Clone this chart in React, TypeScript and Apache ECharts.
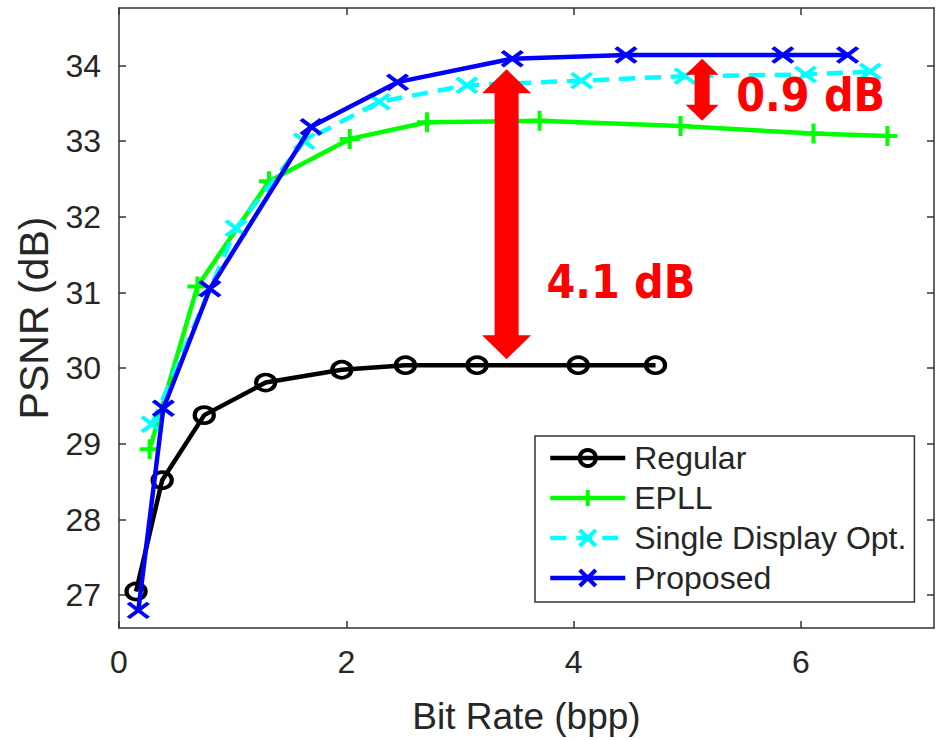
import React, { useEffect, useRef } from "react";
import * as echarts from "echarts";

// ---- data ----
const seriesNames = ["Regular", "EPLL", "Single Display Opt.", "Proposed"];

const regularX = [0.15, 0.38, 0.75, 1.29, 1.96, 2.52, 3.15, 4.04, 4.72];
const regularY = [27.05, 28.52, 29.38, 29.81, 29.98, 30.04, 30.04, 30.04, 30.04];

const epllX = [0.27, 0.69, 1.32, 2.03, 2.71, 3.7, 4.94, 6.11, 6.76];
const epllY = [28.93, 31.08, 32.47, 33.03, 33.25, 33.27, 33.2, 33.1, 33.07];

const singleX = [0.29, 1.03, 1.63, 2.29, 3.06, 4.07, 4.98, 6.04, 6.61];
const singleY = [29.26, 31.85, 33.0, 33.52, 33.74, 33.8, 33.86, 33.88, 33.92];

const proposedX = [0.17, 0.39, 0.8, 1.69, 2.45, 3.46, 4.46, 5.84, 6.41];
const proposedY = [26.8, 29.47, 31.05, 33.19, 33.78, 34.09, 34.14, 34.14, 34.14];

const xTicks = [0, 2, 4, 6];
const yTicks = [27, 28, 29, 30, 31, 32, 33, 34];
const xRange = [0, 7.17];
const yRange = [26.567, 34.76];

// annotation arrows (value coordinates)
const arrowX = [3.41, 5.13];
const arrowBottom = [30.12, 33.27];
const arrowTop = [33.95, 34.09];

// annotation labels
const labelText = ["4.1 dB", "0.9 dB"];
const labelX = [3.76, 5.43];
const labelY = [31.14, 33.61];

const zip = (xs: number[], ys: number[]) => xs.map((x, i) => [x, ys[i]]);

const AXIS_COLOR = "#333333";
const TEXT_COLOR = "#262626";
const FONT = "'Liberation Sans', Arial, Helvetica, sans-serif";
const LW = 4.5;
const MW = 4;

const arrowShape = [
  { shaft: 24, head: 49, headLen: 24 },
  { shaft: 15, head: 33, headLen: 16 },
];

export default function App() {
  const ref = useRef<HTMLDivElement>(null);

  useEffect(() => {
    if (!ref.current) return;
    const chart = echarts.init(ref.current, null, { renderer: "svg" });

    const plusPath = "path://M10,0L10,20M0,10L20,10";
    const crossPath = "path://M0,0L20,20M0,20L20,0";

    const commonX = {
      type: "value" as const,
      min: xRange[0],
      max: xRange[1],
      splitLine: { show: false },
      axisLine: { show: true, onZero: false, lineStyle: { color: AXIS_COLOR, width: 1.5 } },
      axisTick: { show: true, inside: true, length: 7, customValues: xTicks, lineStyle: { color: AXIS_COLOR, width: 1.5 } },
    };
    const commonY = {
      type: "value" as const,
      min: yRange[0],
      max: yRange[1],
      splitLine: { show: false },
      axisLine: { show: true, onZero: false, lineStyle: { color: AXIS_COLOR, width: 1.5 } },
      axisTick: { show: true, inside: true, length: 7, customValues: yTicks, lineStyle: { color: AXIS_COLOR, width: 1.5 } },
    };

    const option: any = {
      animation: false,
      backgroundColor: "#ffffff",
      grid: { left: 119, top: 8, right: 2, bottom: 107, containLabel: false },
      xAxis: [
        {
          ...commonX,
          position: "bottom",
          name: "Bit Rate (bpp)",
          nameLocation: "middle",
          nameGap: 70,
          nameTextStyle: { fontSize: 37, color: TEXT_COLOR, fontFamily: FONT },
          axisLabel: {
            show: true,
            customValues: xTicks,
            margin: 18,
            fontSize: 32,
            color: TEXT_COLOR,
            fontFamily: FONT,
          },
        },
        {
          ...commonX,
          position: "top",
          axisLabel: { show: false },
        },
      ],
      yAxis: [
        {
          ...commonY,
          position: "left",
          name: "PSNR (dB)",
          nameLocation: "middle",
          nameGap: 56,
          nameTextStyle: { fontSize: 41, color: TEXT_COLOR, fontFamily: FONT },
          axisLabel: {
            show: true,
            customValues: yTicks,
            margin: 18,
            fontSize: 32,
            color: TEXT_COLOR,
            fontFamily: FONT,
          },
        },
        {
          ...commonY,
          position: "right",
          axisLabel: { show: false },
        },
      ],
      legend: {
        show: true,
        data: seriesNames,
        orient: "vertical",
        left: 535,
        top: 436,
        padding: [6, 8, 8, 13],
        itemWidth: 75,
        itemHeight: 20,
        itemGap: 8,
        selectedMode: false,
        borderColor: AXIS_COLOR,
        borderWidth: 1.5,
        backgroundColor: "#ffffff",
        lineStyle: { width: LW },
        itemStyle: { borderWidth: MW },
        textStyle: {
          fontSize: 32,
          lineHeight: 32,
          color: TEXT_COLOR,
          fontFamily: FONT,
          padding: [0, 0, 0, 4],
        },
      },
      series: [
        {
          name: seriesNames[0],
          type: "line",
          data: zip(regularX, regularY),
          symbol: "circle",
          symbolSize: [19, 16],
          lineStyle: { color: "#000000", width: LW },
          itemStyle: { color: "rgba(0,0,0,0)", borderColor: "#000000", borderWidth: MW },
          z: 2,
        },
        {
          name: seriesNames[1],
          type: "line",
          data: zip(epllX, epllY),
          symbol: plusPath,
          symbolSize: [20, 20],
          lineStyle: { color: "#00ff00", width: LW },
          itemStyle: { color: "rgba(0,0,0,0)", borderColor: "#00ff00", borderWidth: MW },
          z: 3,
        },
        {
          name: seriesNames[2],
          type: "line",
          data: zip(singleX, singleY),
          symbol: crossPath,
          symbolSize: [20, 15],
          lineStyle: { color: "#00ffff", width: LW, type: [16, 10] },
          itemStyle: { color: "rgba(0,0,0,0)", borderColor: "#00ffff", borderWidth: MW },
          z: 4,
        },
        {
          name: seriesNames[3],
          type: "line",
          data: zip(proposedX, proposedY),
          symbol: crossPath,
          symbolSize: [20, 15],
          lineStyle: { color: "#0000ff", width: LW },
          itemStyle: { color: "rgba(0,0,0,0)", borderColor: "#0000ff", borderWidth: MW },
          z: 5,
        },
        {
          name: "arrows",
          type: "custom",
          coordinateSystem: "cartesian2d",
          clip: false,
          z: 10,
          data: arrowX.map((x, i) => [x, arrowBottom[i], arrowTop[i]]),
          renderItem: (params: any, api: any) => {
            const i = params.dataIndex;
            const s = arrowShape[i];
            const x = api.value(0);
            const pb = api.coord([x, api.value(1)]);
            const pt = api.coord([x, api.value(2)]);
            const cx = pt[0];
            const ty = pt[1];
            const by = pb[1];
            const hs = s.shaft / 2;
            const hh = s.head / 2;
            const pts = [
              [cx, ty],
              [cx + hh, ty + s.headLen],
              [cx + hs, ty + s.headLen],
              [cx + hs, by - s.headLen],
              [cx + hh, by - s.headLen],
              [cx, by],
              [cx - hh, by - s.headLen],
              [cx - hs, by - s.headLen],
              [cx - hs, ty + s.headLen],
              [cx - hh, ty + s.headLen],
            ];
            return {
              type: "polygon",
              shape: { points: pts },
              style: { fill: "#ff0000", stroke: "none" },
            };
          },
        },
        {
          name: "labels",
          type: "custom",
          coordinateSystem: "cartesian2d",
          clip: false,
          z: 11,
          data: labelX.map((x, i) => [x, labelY[i]]),
          renderItem: (params: any, api: any) => {
            const p = api.coord([api.value(0), api.value(1)]);
            return {
              type: "text",
              x: p[0],
              y: p[1],
              scaleX: 0.9,
              style: {
                text: labelText[params.dataIndex],
                fill: "#ff0000",
                fontSize: 46,
                fontWeight: "bold",
                fontFamily: "'DejaVu Sans', Verdana, sans-serif",
                align: "left",
                verticalAlign: "middle",
              },
            };
          },
        },
      ],
    };

    chart.setOption(option);
    return () => chart.dispose();
  }, []);

  return (
    <div
      ref={ref}
      style={{ position: "absolute", left: 0, top: 0, width: 936, height: 740 }}
    />
  );
}
